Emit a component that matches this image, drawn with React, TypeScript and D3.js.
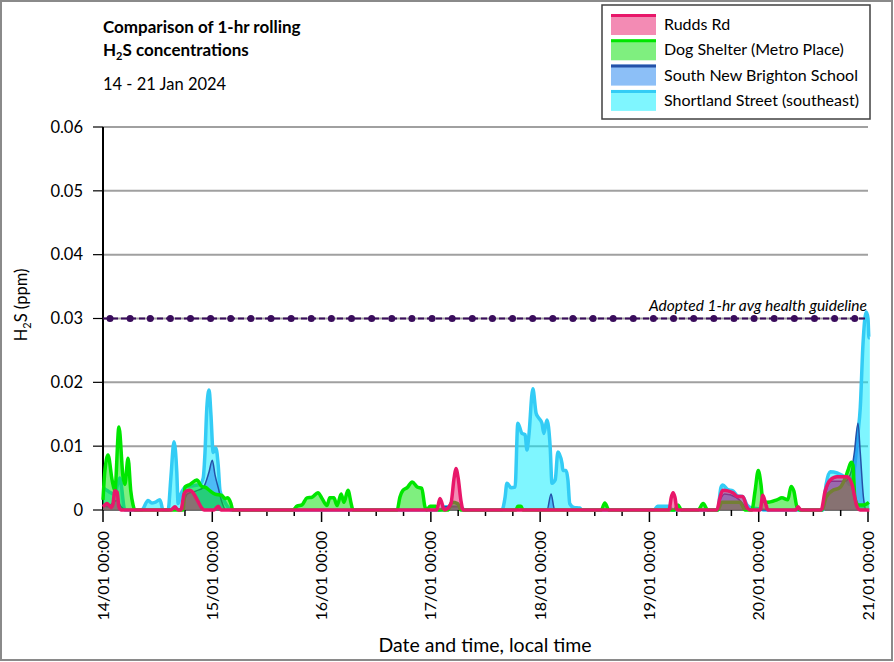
import { useEffect, useRef } from "react"
import * as d3 from "d3"

// [hours since 14/01 00:00, H2S ppm]
type Pt = [number, number]

const dayLabels = [
  "14/01 00:00",
  "15/01 00:00",
  "16/01 00:00",
  "17/01 00:00",
  "18/01 00:00",
  "19/01 00:00",
  "20/01 00:00",
  "21/01 00:00",
]
const yTicks = [0, 0.01, 0.02, 0.03, 0.04, 0.05, 0.06]
const yTickLabels = ["0", "0.01", "0.02", "0.03", "0.04", "0.05", "0.06"]
const guidelineValue = 0.03

const ruddsRd: Pt[] = [
  [0, 0.0005], [0.9, 0.001], [1.8, 0.0004], [2.2, 0.001], [2.6, 0.003], [3.1, 0.0028], [3.5, 0.0005], [4.0, 0],
  [14.9, 0], [15.8, 0.0005], [16.5, 0],
  [17.1, 0], [17.8, 0.0025], [18.4, 0.003], [19.1, 0.0031], [19.8, 0.0027], [20.9, 0.0013], [21.7, 0.0003], [22.2, 0],
  [24.4, 0], [25.3, 0.0006], [25.9, 0],
  [73.3, 0], [74.0, 0.0018], [75.0, 0], [76.4, 0.001], [77.1, 0.005], [77.5, 0.0065], [78.0, 0.005], [78.6, 0.0015], [79.1, 0],
  [124.3, 0], [124.8, 0.002], [125.2, 0.0027], [125.6, 0.002], [126.1, 0],
  [134.8, 0], [135.5, 0.002], [136.1, 0.0031], [137.2, 0.003], [138.3, 0.0027], [139.4, 0.0021], [140.5, 0.0021], [141.4, 0.0005], [142.1, 0],
  [144.3, 0], [144.9, 0.0023], [145.6, 0.0008], [146.0, 0],
  [152.2, 0], [152.6, 0.0005], [153.3, 0],
  [157.7, 0], [158.6, 0.003], [159.7, 0.0047], [161.2, 0.0052], [163.4, 0.0052], [164.5, 0.004], [165.6, 0.0005], [166.3, 0],
  [168.3, 0],
]

const dogShelter: Pt[] = [
  [0, 0.0016], [0.4, 0.006], [1.1, 0.0086], [2.0, 0.0047], [2.6, 0.003], [3.5, 0.013], [4.4, 0.0052], [4.8, 0.004],
  [5.5, 0.0081], [6.1, 0.003], [6.6, 0.0008], [7.0, 0],
  [17.6, 0], [18.0, 0.0036], [19.1, 0.004], [20.6, 0.0047], [21.7, 0.0037], [22.6, 0.0035], [23.5, 0.003],
  [24.6, 0.0025], [26.1, 0.0023], [26.8, 0.0018], [27.4, 0.0019], [28.1, 0.001], [28.5, 0],
  [41.7, 0], [42.6, 0.0006], [43.7, 0.0008], [44.8, 0.0019], [45.9, 0.002], [47.2, 0.0027], [48.1, 0.0018],
  [49.2, 0.0007], [49.8, 0.0019], [50.7, 0.0019], [51.4, 0.0007], [52.3, 0.0025], [52.9, 0.0012], [53.8, 0.0031],
  [54.5, 0.001], [54.9, 0],
  [64.6, 0], [65.2, 0.002], [65.9, 0.0031], [66.8, 0.0035], [67.9, 0.0044], [69.0, 0.0036], [70.0, 0.0034],
  [70.7, 0.0005], [71.1, 0], [71.8, 0.0006], [73.1, 0.0006], [73.6, 0],
  [75.8, 0], [76.6, 0.0012], [77.9, 0.001], [78.6, 0],
  [90.7, 0], [91.1, 0.0006], [91.8, 0.0006], [92.2, 0],
  [109.4, 0], [110.2, 0.0011], [111.1, 0],
  [125.5, 0], [126.3, 0.0008], [127.0, 0],
  [130.7, 0], [131.8, 0.001], [132.8, 0],
  [135.0, 0], [135.9, 0.0012], [139.9, 0.0012], [141.0, 0],
  [142.5, 0], [143.2, 0.003], [143.9, 0.0062], [144.5, 0.004], [144.9, 0.0015], [145.8, 0.0012], [148.0, 0.0016],
  [149.1, 0.0019], [150.4, 0.0016], [151.1, 0.0037], [151.7, 0.003], [152.4, 0.0005], [153.1, 0],
  [157.9, 0], [158.8, 0.002], [160.1, 0.003], [161.8, 0.0035], [163.0, 0.005], [163.6, 0.0062], [164.3, 0.0075],
  [164.7, 0.007], [165.1, 0.002], [165.8, 0.0008], [167.1, 0.0008], [167.8, 0.001], [168.2, 0.0012],
]

const southNewBrighton: Pt[] = [
  [0, 0.001], [1, 0.0005], [3, 0.0015], [4, 0.0005], [5, 0],
  [17, 0], [18.5, 0.0025], [20.5, 0.003], [22, 0.0035], [23.3, 0.006], [24, 0.0078], [24.6, 0.0055], [25.3, 0.0035], [26, 0.0015], [27, 0],
  [74, 0], [75, 0.0005], [78.5, 0.0005], [79, 0],
  [97.5, 0], [98.4, 0.0025], [99.2, 0],
  [134.8, 0], [135.5, 0.0015], [136.5, 0.0025], [139, 0.002], [140.5, 0.001], [141.5, 0],
  [157.9, 0], [158.8, 0.003], [160, 0.0045], [163, 0.0045], [164.3, 0.006], [165, 0.009], [165.8, 0.0136],
  [166.3, 0.009], [167, 0.002], [167.6, 0], [168.2, 0],
]

const shortlandSt: Pt[] = [
  [0, 0.0035], [1, 0.003], [2.5, 0.0025], [3.2, 0.004], [3.7, 0.005], [4.8, 0],
  [8.5, 0], [9.9, 0.0015], [10.7, 0.0011], [11.4, 0.0012], [12.5, 0.0016], [13.2, 0],
  [14.3, 0], [14.9, 0.005], [15.6, 0.0107], [16.2, 0.006], [16.5, 0.001], [17.1, 0.0025], [18.4, 0.0037],
  [19.8, 0.0038], [21.3, 0.004], [22.0, 0.005], [22.4, 0.009], [22.8, 0.016], [23.3, 0.0188], [23.7, 0.015],
  [24.2, 0.009], [24.8, 0.0097], [25.3, 0.007], [25.7, 0.003], [26.6, 0.0015], [27.4, 0.0005], [28.1, 0],
  [74, 0], [75.1, 0.0005], [78.4, 0.0005], [79.5, 0],
  [87.6, 0], [88.3, 0.002], [88.7, 0.0042], [89.6, 0.0035], [90.5, 0.0036], [91.1, 0.0136], [92.0, 0.012],
  [92.7, 0.0118], [93.1, 0.0094], [93.5, 0.0115], [94.4, 0.019], [95.1, 0.0152], [95.5, 0.0146], [96.4, 0.0136],
  [96.8, 0.012], [97.5, 0.0141], [98.2, 0.0099], [98.6, 0.0042], [99.3, 0.0047], [99.9, 0.0091], [100.8, 0.0073],
  [101.0, 0.0062], [101.7, 0.0062], [102.1, 0.0047], [102.5, 0.001], [103.4, 0.0004], [104.7, 0.0003], [105.2, 0],
  [121, 0], [121.8, 0.0006], [124.3, 0.0006], [125, 0],
  [135, 0], [135.7, 0.0035], [136.1, 0.0039], [137.2, 0.0032], [138.3, 0.003], [139.4, 0.0022], [140.5, 0.0021],
  [141.4, 0.0008], [142.5, 0.0003], [144.3, 0.0002], [145, 0],
  [158.1, 0], [158.8, 0.004], [159.7, 0.006], [161.2, 0.0058], [163.0, 0.005], [164.0, 0.004], [164.7, 0.005],
  [165.4, 0.009], [165.8, 0.012], [166.3, 0.016], [166.9, 0.026], [167.6, 0.031], [168.0, 0.03], [168.2, 0.027],
  [168.4, 0.027],
]

// legend order; drawn in reverse so Rudds Rd sits on top
const series = [
  { name: "Rudds Rd", data: ruddsRd, stroke: "#E8176A", fill: "#E8176A", width: 3.5 },
  { name: "Dog Shelter (Metro Place)", data: dogShelter, stroke: "#00E600", fill: "#00E000", width: 3.5 },
  { name: "South New Brighton School", data: southNewBrighton, stroke: "#2452A8", fill: "#1A80F0", width: 1.5 },
  { name: "Shortland Street (southeast)", data: shortlandSt, stroke: "#33CCF5", fill: "#00EEFF", width: 3.5 },
]

const FONT = "Lato, 'Open Sans', sans-serif"

export default function App() {
  const svgRef = useRef<SVGSVGElement>(null)

  useEffect(() => {
    if (!svgRef.current) return
    const svg = d3.select(svgRef.current)
    svg.selectAll("*").remove()

    const W = 894
    const H = 662
    const left = 103
    const right = 868
    const top = 127
    const bottom = 510

    const x = d3.scaleLinear().domain([0, 168]).range([left, right])
    const y = d3.scaleLinear().domain([0, 0.06]).range([bottom, top])

    // outer frame
    svg
      .append("rect")
      .attr("x", 1)
      .attr("y", 1)
      .attr("width", W - 3)
      .attr("height", H - 3)
      .attr("fill", "#fff")
      .attr("stroke", "#8a8a8a")
      .attr("stroke-width", 2)

    // title
    const title = svg.append("g").attr("font-family", FONT).attr("fill", "#000")
    title
      .append("text")
      .attr("x", 103)
      .attr("y", 33)
      .attr("font-size", 17)
      .attr("font-weight", "bold")
      .text("Comparison of 1-hr rolling")
    const t2 = title
      .append("text")
      .attr("x", 103)
      .attr("y", 56)
      .attr("font-size", 17)
      .attr("font-weight", "bold")
    t2.append("tspan").text("H")
    t2.append("tspan").attr("font-size", 11).attr("dy", 4).text("2")
    t2.append("tspan").attr("dy", -4).text("S concentrations")
    title.append("text").attr("x", 103).attr("y", 90).attr("font-size", 16.5).text("14 - 21 Jan 2024")

    // grid lines
    svg
      .append("g")
      .selectAll("line")
      .data(yTicks.slice(1))
      .join("line")
      .attr("x1", left)
      .attr("x2", right)
      .attr("y1", (d) => y(d))
      .attr("y2", (d) => y(d))
      .attr("stroke", "#a0a0a0")
      .attr("stroke-width", 2)

    // zero line
    svg
      .append("line")
      .attr("x1", left)
      .attr("x2", right)
      .attr("y1", y(0))
      .attr("y2", y(0))
      .attr("stroke", "#404040")
      .attr("stroke-width", 1.5)

    // y axis
    const yAxis = svg.append("g").attr("font-family", FONT)
    yAxis
      .append("line")
      .attr("x1", left)
      .attr("x2", left)
      .attr("y1", top)
      .attr("y2", bottom)
      .attr("stroke", "#000")
      .attr("stroke-width", 2)
    yAxis
      .selectAll("line.tick")
      .data(yTicks)
      .join("line")
      .attr("class", "tick")
      .attr("x1", left - 10)
      .attr("x2", left)
      .attr("y1", (d) => y(d))
      .attr("y2", (d) => y(d))
      .attr("stroke", "#000")
      .attr("stroke-width", 1.2)
    yAxis
      .selectAll("text")
      .data(yTicks)
      .join("text")
      .attr("x", 83)
      .attr("y", (d) => y(d))
      .attr("dy", "0.35em")
      .attr("text-anchor", "end")
      .attr("font-size", 16.5)
      .text((_, i) => yTickLabels[i])

    const yl = svg
      .append("text")
      .attr("transform", "translate(27,305) rotate(-90)")
      .attr("text-anchor", "middle")
      .attr("font-family", FONT)
      .attr("font-size", 16.5)
    yl.append("tspan").text("H")
    yl.append("tspan").attr("font-size", 11).attr("dy", 4).text("2")
    yl.append("tspan").attr("dy", -4).text("S (ppm)")

    // x ticks every 6 hours, longer on each day
    const xTicks = d3.range(0, 169, 6)
    svg
      .append("g")
      .selectAll("line")
      .data(xTicks)
      .join("line")
      .attr("x1", (d) => x(d))
      .attr("x2", (d) => x(d))
      .attr("y1", bottom)
      .attr("y2", (d) => (d % 24 === 0 ? bottom + 12 : bottom + 6))
      .attr("stroke", "#000")
      .attr("stroke-width", 1.5)

    svg
      .append("g")
      .attr("font-family", FONT)
      .attr("font-size", 16)
      .selectAll("text")
      .data(dayLabels)
      .join("text")
      .attr("transform", (_, i) => `translate(${x(i * 24)},531) rotate(-90)`)
      .attr("text-anchor", "end")
      .attr("dy", "0.35em")
      .text((d) => d)

    svg
      .append("text")
      .attr("x", 485)
      .attr("y", 652)
      .attr("text-anchor", "middle")
      .attr("font-family", FONT)
      .attr("font-size", 19.5)
      .text("Date and time, local time")

    // areas + lines
    const area = d3
      .area<Pt>()
      .x((d) => x(d[0]))
      .y0(y(0))
      .y1((d) => y(d[1]))
      .curve(d3.curveMonotoneX)
    const line = d3
      .line<Pt>()
      .x((d) => x(d[0]))
      .y((d) => y(d[1]))
      .curve(d3.curveMonotoneX)

    const drawOrder = [...series].reverse()
    const marks = svg.append("g")
    drawOrder.forEach((s) => {
      marks.append("path").attr("d", area(s.data)).attr("fill", s.fill).attr("fill-opacity", 0.5)
      marks
        .append("path")
        .attr("d", line(s.data))
        .attr("fill", "none")
        .attr("stroke", s.stroke)
        .attr("stroke-width", s.width)
        .attr("stroke-linejoin", "round")
    })

    // guideline
    const gl = svg.append("g")
    gl.append("line")
      .attr("x1", x(0))
      .attr("x2", x(168))
      .attr("y1", y(guidelineValue))
      .attr("y2", y(guidelineValue))
      .attr("stroke", "#3a0d5c")
      .attr("stroke-width", 2)
      .attr("stroke-dasharray", "6,3")
    gl.selectAll("circle")
      .data(d3.range(38).map((i) => 1.54 + i * 4.42))
      .join("circle")
      .attr("cx", (d) => x(d))
      .attr("cy", y(guidelineValue))
      .attr("r", 3.5)
      .attr("fill", "#3a0d5c")
    gl.append("text")
      .attr("x", 867)
      .attr("y", 311)
      .attr("text-anchor", "end")
      .attr("font-family", FONT)
      .attr("font-style", "italic")
      .attr("font-size", 15.5)
      .text("Adopted 1-hr avg health guideline")

    // legend
    const lg = svg.append("g").attr("font-family", FONT)
    lg.append("rect")
      .attr("x", 602)
      .attr("y", 5)
      .attr("width", 268)
      .attr("height", 114)
      .attr("fill", "#fff")
      .attr("stroke", "#404040")
      .attr("stroke-width", 1.5)
    series.forEach((s, i) => {
      const ry = 14 + i * 25.3
      lg.append("rect")
        .attr("x", 611)
        .attr("y", ry)
        .attr("width", 45)
        .attr("height", 21)
        .attr("fill", s.fill)
        .attr("fill-opacity", 0.5)
      lg.append("line")
        .attr("x1", 611)
        .attr("x2", 656)
        .attr("y1", ry + 1.5)
        .attr("y2", ry + 1.5)
        .attr("stroke", s.stroke)
        .attr("stroke-width", 3)
      lg.append("text")
        .attr("x", 664)
        .attr("y", ry + 10.5)
        .attr("dy", "0.35em")
        .attr("font-size", 16)
        .text(s.name)
    })
  }, [])

  return (
    <svg
      ref={svgRef}
      width={894}
      height={662}
      style={{ position: "absolute", left: 0, top: 0, background: "#fff" }}
    />
  )
}
